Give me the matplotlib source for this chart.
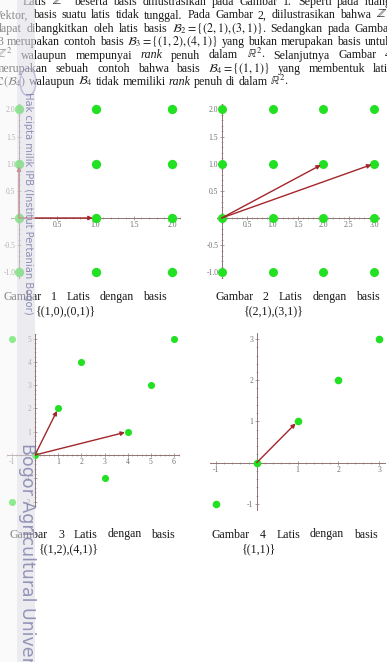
import matplotlib.pyplot as plt
from matplotlib.patches import Rectangle, Circle
from matplotlib.ticker import MultipleLocator

W, H = 387, 662

plt.rcParams['font.family'] = ['Liberation Serif', 'DejaVu Serif']
plt.rcParams['mathtext.fontset'] = 'stix'

# ---- data: lattice points and basis vectors per figure ----
g1_x = [0, 1, 2, 0, 1, 2, 0, 1, 2, 0, 1, 2]
g1_y = [-1, -1, -1, 0, 0, 0, 1, 1, 1, 2, 2, 2]
g1_basis = [(1, 0), (0, 1)]
g1_xticks = [0.5, 1.0, 1.5, 2.0]
g1_yticks = [-1.0, -0.5, 0.5, 1.0, 1.5, 2.0]

g2_x = [0, 1, 2, 3, 0, 1, 2, 3, 0, 1, 2, 3, 0, 1, 2, 3]
g2_y = [-1, -1, -1, -1, 0, 0, 0, 0, 1, 1, 1, 1, 2, 2, 2, 2]
g2_basis = [(2, 1), (3, 1)]
g2_xticks = [0.5, 1.0, 1.5, 2.0, 2.5, 3.0]
g2_yticks = [-1.0, -0.5, 0.5, 1.0, 1.5, 2.0]

g3_x = [-1, 0, 1, 2, 3, 4, 5, 6, -1]
g3_y = [-2, 0, 2, 4, -1, 1, 3, 5, 5]
g3_basis = [(1, 2), (4, 1)]
g3_xticks = [-1, 1, 2, 3, 4, 5, 6]
g3_yticks = [-2, -1, 1, 2, 3, 4, 5]

g4_x = [-1, 0, 1, 2, 3]
g4_y = [-1, 0, 1, 2, 3]
g4_basis = [(1, 1)]
g4_xticks = [-1, 1, 2, 3]
g4_yticks = [-1, 1, 2, 3]

GREEN = '#22e022'
RED = '#a3262b'
AXC = '#8f7474'
LBL = '#6e6e6e'

fig = plt.figure(figsize=(W / 100, H / 100), dpi=100)


def lattice_axes(x0, xs, y0, ys, xlim, ylim):
    # x0,y0 = pixel of the origin, xs,ys = pixels per unit
    left = x0 + xlim[0] * xs
    right = x0 + xlim[1] * xs
    top = y0 - ylim[1] * ys
    bottom = y0 - ylim[0] * ys
    ax = fig.add_axes([left / W, 1 - bottom / H, (right - left) / W, (bottom - top) / H])
    ax.set_xlim(xlim)
    ax.set_ylim(ylim)
    ax.patch.set_alpha(0)
    for s in ['top', 'right']:
        ax.spines[s].set_visible(False)
    for s in ['left', 'bottom']:
        ax.spines[s].set_position(('data', 0))
        ax.spines[s].set_color(AXC)
        ax.spines[s].set_linewidth(0.7)
    return ax


def dress(ax, xt, yt, xfmt, yfmt, minor):
    ax.set_xticks(xt)
    ax.set_xticklabels([xfmt.format(v) for v in xt])
    ax.set_yticks(yt)
    ax.set_yticklabels([yfmt.format(v) for v in yt])
    ax.xaxis.set_minor_locator(MultipleLocator(minor))
    ax.yaxis.set_minor_locator(MultipleLocator(minor))
    ax.tick_params(which='major', direction='inout', length=3, width=0.5,
                   color=AXC, labelcolor=LBL, labelsize=5.5, pad=1)
    ax.tick_params(which='minor', direction='inout', length=1.6, width=0.4, color=AXC)


def draw(ax, xs, ys, basis, size):
    for bx, by in basis:
        ax.annotate('', xy=(bx, by), xytext=(0, 0),
                    arrowprops=dict(arrowstyle='-|>', color=RED, lw=1.0,
                                    mutation_scale=6, shrinkA=0, shrinkB=2),
                    zorder=4)
    ax.scatter(xs, ys, s=size, color=GREEN, zorder=3, clip_on=False, linewidths=0)


ax1 = lattice_axes(19, 76.5, 218, 54.3, (-0.1, 2.1), (-1.1, 2.1))
dress(ax1, g1_xticks, g1_yticks, '{:.1f}', '{:.1f}', 0.1)
draw(ax1, g1_x, g1_y, g1_basis, 45)

ax2 = lattice_axes(221.7, 50.8, 218, 54.3, (-0.1, 3.1), (-1.1, 2.1))
dress(ax2, g2_xticks, g2_yticks, '{:.1f}', '{:.1f}', 0.1)
draw(ax2, g2_x, g2_y, g2_basis, 42)

ax3 = lattice_axes(35, 23.17, 455, 23.3, (-1.2, 6.2), (-2.2, 5.2))
dress(ax3, g3_xticks, g3_yticks, '{:d}', '{:d}', 0.2)
draw(ax3, g3_x, g3_y, g3_basis, 26)

ax4 = lattice_axes(256.7, 40.87, 462.7, 41.23, (-1.15, 3.15), (-1.15, 3.15))
dress(ax4, g4_xticks, g4_yticks, '{:d}', '{:d}', 0.2)
draw(ax4, g4_x, g4_y, g4_basis, 30)


# ---- text, justified word by word ----
def put_line(tokens, y, x0, x1=None, size=8.6):
    texts = []
    for tok in tokens:
        s, st = tok if isinstance(tok, tuple) else (tok, 'normal')
        texts.append(fig.text(0, 1 - y / H, s, fontsize=size, style=st,
                              va='baseline', ha='left', color='#1a1a1a'))
    r = fig.canvas.get_renderer()
    widths = [t.get_window_extent(r).width for t in texts]
    if x1 is None or len(texts) < 2:
        gap = size * 0.25 * 100 / 72
    else:
        gap = (x1 - x0 - sum(widths)) / (len(texts) - 1)
    x = x0
    for t, w in zip(texts, widths):
        t.set_x(x / W)
        x += w + gap


para = [
    (['Latis', r'$\mathbb{Z}^2$', 'beserta', 'basis', 'diilustrasikan', 'pada',
      'Gambar', '1.', 'Seperti', 'pada', 'ruang'], 5, 23, 392),
    (['Vektor,', 'basis', 'suatu', 'latis', 'tidak', 'tunggal.', 'Pada', 'Gambar',
      '2,', 'diilustrasikan', 'bahwa', r'$\mathbb{Z}^2$'], 18.5, -6, 392),
    (['dapat', 'dibangkitkan', 'oleh', 'latis', 'basis',
      r'$\mathcal{B}_2 = \{(2,1),(3,1)\}.$', 'Sedangkan', 'pada', 'Gambar'], 32, -4, 393),
    (['3', 'merupakan', 'contoh', 'basis', r'$\mathcal{B}_3 = \{(1,2),(4,1)\}$',
      'yang', 'bukan', 'merupakan', 'basis', 'untuk'], 45, -3, 392),
    ([r'$\mathbb{Z}^2$', 'walaupun', 'mempunyai', ('rank', 'italic'), 'penuh', 'dalam',
      r'$\mathbb{R}^2.$', 'Selanjutnya', 'Gambar', '4'], 58.5, -4, 391),
    (['merupakan', 'sebuah', 'contoh', 'bahwa', 'basis', r'$\mathcal{B}_4 = \{(1,1)\}$',
      'yang', 'membentuk', 'latis'], 72, -5, 393),
    ([r'$\mathcal{L}(\mathcal{B}_4)$', 'walaupun', r'$\mathcal{B}_4$', 'tidak', 'memiliki',
      ('rank', 'italic'), 'penuh', 'di', 'dalam', r'$\mathbb{R}^2.$'], 85, -5, None),
]
for toks, y, a, b in para:
    put_line(toks, y, a, b)

captions = [
    ('1', '{(1,0),(0,1)}', 300, 3, 167, 36),
    ('2', '{(2,1),(3,1)}', 300, 215, 380, 244),
    ('3', '{(1,2),(4,1)}', 537.5, 10, 175, 39),
    ('4', '{(1,1)}', 537.5, 212, 378, 242),
]
for num, basis_txt, y, a, b, c in captions:
    put_line(['Gambar', num, 'Latis', 'dengan', 'basis'], y, a, b)
    put_line([basis_txt], y + 14.5, c)

# ---- scan watermark strip ----
fig.patches.append(Rectangle((0, 0), 17 / W, 1, transform=fig.transFigure,
                             facecolor='#f6f6f6', alpha=0.5, zorder=10, lw=0))
fig.patches.append(Rectangle((17 / W, 0), 18 / W, 1, transform=fig.transFigure,
                             facecolor='#dedee6', alpha=0.6, zorder=10, lw=0))
fig.patches.append(Circle((28 / W, 1 - 82 / H), 8 / W, transform=fig.transFigure,
                          fill=False, edgecolor='#8a8ac8', alpha=0.5, lw=1, zorder=11))
fig.text(28 / W, 1 - 92 / H, 'Hak cipta milik IPB (Institut Pertanian Bogor)',
         rotation=270, ha='center', va='top', fontsize=7.2, color='#6e6ea0',
         alpha=0.75, family='DejaVu Sans', zorder=12)
fig.text(27 / W, 1 - 443 / H, 'Bogor Agricultural University',
         rotation=270, ha='center', va='top', fontsize=12.5, color='#6e6ea0',
         alpha=0.7, family='DejaVu Sans', zorder=12)

fig.savefig('out.png', dpi=100, facecolor='white')
